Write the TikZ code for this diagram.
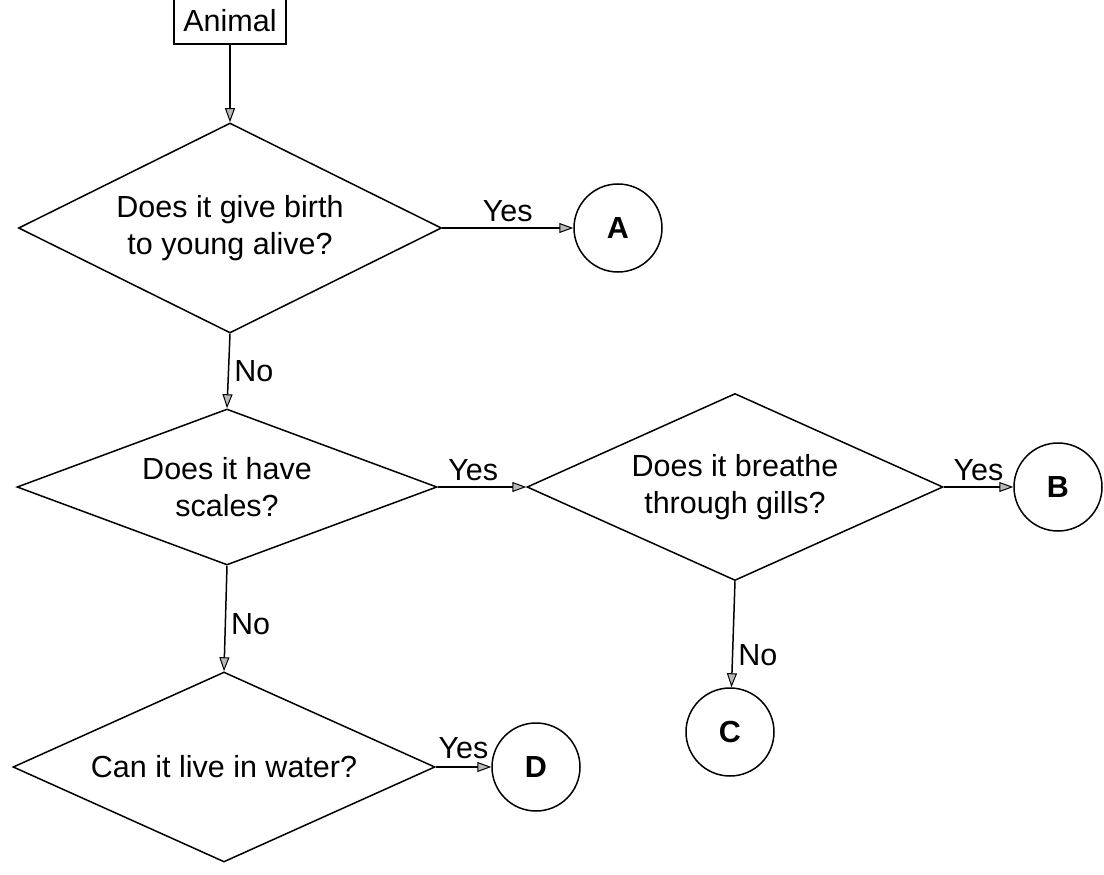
\documentclass[tikz,border=0pt]{standalone}
\usepackage{fontspec}
\setmainfont{Liberation Sans}
\usetikzlibrary{shapes.geometric,arrows.meta}
\begin{document}
\begin{tikzpicture}[x=1pt,y=-1pt,
  every node/.style={font=\fontsize{30.5}{37}\selectfont},
  box/.style={draw, line width=1.5pt, minimum width=112pt, minimum height=46pt, inner sep=0pt},
  dec/.style={draw, diamond, line width=1.5pt, shape aspect=2, inner sep=0pt, align=center},
  term/.style={draw, circle, line width=1.5pt, minimum size=88pt, inner sep=0pt, font=\fontsize{30.5}{37}\selectfont\bfseries},
  conn/.style={line width=1.5pt, -{Triangle[length=14pt,width=10pt,fill=gray!55,line width=1pt]}},
  lab/.style={inner sep=5pt}
]
\useasboundingbox (0,0) rectangle (1104,875);
\node[box] (animal) at (230,21) {Animal};
\node[dec, minimum width=423pt, minimum height=210pt] (q1) at (230,228) {Does it give birth\\to young alive?};
\node[term] (A) at (618,228) {A};
\node[dec, minimum width=420pt, minimum height=156pt] (q2) at (227,487) {Does it have\\scales?};
\node[dec, minimum width=416pt, minimum height=187pt] (q3) at (735,487) {Does it breathe\\through gills?};
\node[term] (B) at (1058,487) {B};
\node[term] (C) at (730,732) {C};
\node[dec, minimum width=422pt, minimum height=190pt] (q4) at (224,767) {Can it live in water?};
\node[term] (D) at (536,767) {D};

\draw[conn] (animal) -- (q1);
\draw[conn] (q1.east) -- (A) node[lab, midway, above] {Yes};
\draw[conn] (q1.south) -- (q2.north) node[lab, midway, right] {No};
\draw[conn] (q2.east) -- (q3.west) node[lab, pos=0.4, above] {Yes};
\draw[conn] (q3.east) -- (B) node[lab, midway, above] {Yes};
\draw[conn] (q3.south) -- (C) node[lab, pos=0.7, right] {No};
\draw[conn] (q2.south) -- (q4.north) node[lab, pos=0.55, right] {No};
\draw[conn] (q4.east) -- (D) node[lab, midway, above, yshift=2pt] {Yes};
\end{tikzpicture}
\end{document}
